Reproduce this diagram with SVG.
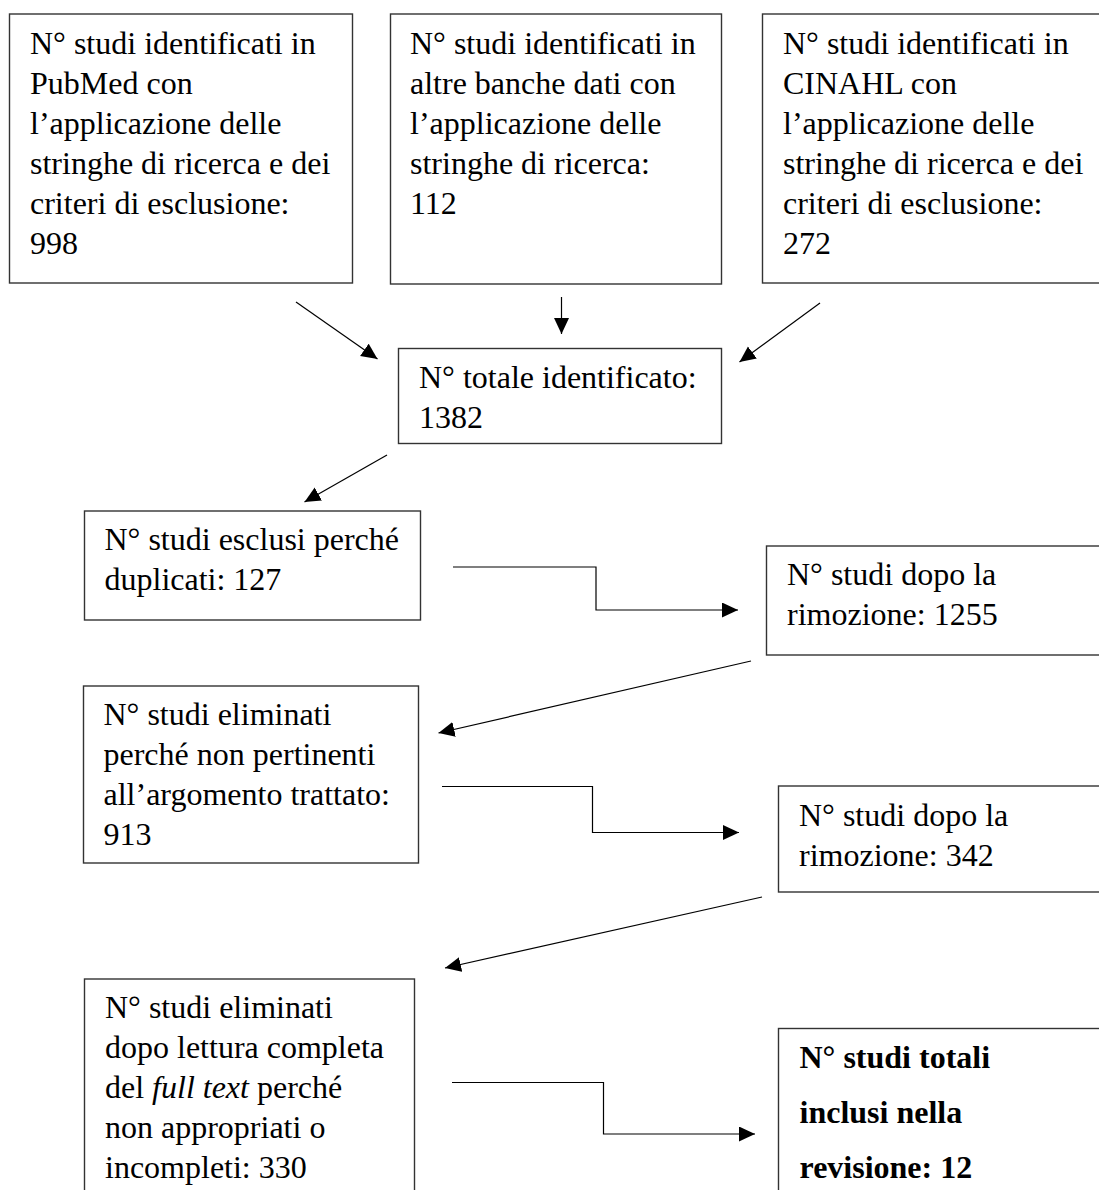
<svg xmlns="http://www.w3.org/2000/svg" width="1099" height="1190" viewBox="0 0 1099 1190">
<style>
.box{fill:#fff;stroke:#333;stroke-width:1.4}
.t{font-family:"Liberation Serif","Times New Roman",serif;font-size:32px;fill:#000}
.b{font-weight:bold}
.c{fill:none;stroke:#000;stroke-width:1.2}
</style>
<defs>
<marker id="ah" markerUnits="userSpaceOnUse" markerWidth="17" markerHeight="16" refX="16" refY="7.5" orient="auto">
<path d="M0,0 L16,7.5 L0,15 z" fill="#000"/>
</marker>
</defs>
<rect width="1099" height="1190" fill="#fff"/>

<g id="pubmed">
<rect class="box" x="9.5" y="14" width="343" height="269"/>
<text class="t" x="30" y="54">N° studi identificati in</text>
<text class="t" x="30" y="94">PubMed con</text>
<text class="t" x="30" y="134">l’applicazione delle</text>
<text class="t" x="30" y="174">stringhe di ricerca e dei</text>
<text class="t" x="30" y="214">criteri di esclusione:</text>
<text class="t" x="30" y="254">998</text>
</g>

<g id="altre">
<rect class="box" x="390.5" y="14" width="331" height="270"/>
<text class="t" x="410" y="54">N° studi identificati in</text>
<text class="t" x="410" y="94">altre banche dati con</text>
<text class="t" x="410" y="134">l’applicazione delle</text>
<text class="t" x="410" y="174">stringhe di ricerca:</text>
<text class="t" x="410" y="214">112</text>
</g>

<g id="cinahl">
<rect class="box" x="762.5" y="14" width="345" height="269"/>
<text class="t" x="783" y="54">N° studi identificati in</text>
<text class="t" x="783" y="94">CINAHL con</text>
<text class="t" x="783" y="134">l’applicazione delle</text>
<text class="t" x="783" y="174">stringhe di ricerca e dei</text>
<text class="t" x="783" y="214">criteri di esclusione:</text>
<text class="t" x="783" y="254">272</text>
</g>

<g id="totale">
<rect class="box" x="398.5" y="348.5" width="323" height="95"/>
<text class="t" x="419" y="388">N° totale identificato:</text>
<text class="t" x="419" y="428">1382</text>
</g>

<g id="esclusi">
<rect class="box" x="84.5" y="511" width="336" height="109"/>
<text class="t" x="104.5" y="550">N° studi esclusi perché</text>
<text class="t" x="104.5" y="590">duplicati: 127</text>
</g>

<g id="dopo1255">
<rect class="box" x="766.5" y="546" width="340" height="109"/>
<text class="t" x="787" y="585">N° studi dopo la</text>
<text class="t" x="787" y="625">rimozione: 1255</text>
</g>

<g id="nonpertinenti">
<rect class="box" x="83.5" y="686" width="335" height="177"/>
<text class="t" x="103.5" y="725">N° studi eliminati</text>
<text class="t" x="103.5" y="765">perché non pertinenti</text>
<text class="t" x="103.5" y="805">all’argomento trattato:</text>
<text class="t" x="103.5" y="845">913</text>
</g>

<g id="dopo342">
<rect class="box" x="778.5" y="786" width="330" height="106"/>
<text class="t" x="799" y="826">N° studi dopo la</text>
<text class="t" x="799" y="866">rimozione: 342</text>
</g>

<g id="fulltext">
<rect class="box" x="84.5" y="979" width="330" height="230"/>
<text class="t" x="105" y="1018">N° studi eliminati</text>
<text class="t" x="105" y="1058">dopo lettura completa</text>
<text class="t" x="105" y="1098">del <tspan font-style="italic">full text</tspan> perché</text>
<text class="t" x="105" y="1138">non appropriati o</text>
<text class="t" x="105" y="1178">incompleti: 330</text>
</g>

<g id="totali">
<rect class="box" x="778.5" y="1028.5" width="330" height="200"/>
<text class="t b" x="799.5" y="1068">N° studi totali</text>
<text class="t b" x="799.5" y="1123">inclusi nella</text>
<text class="t b" x="799.5" y="1178">revisione: 12</text>
</g>

<g id="connectors">
<line class="c" x1="296" y1="302" x2="377.5" y2="359" marker-end="url(#ah)"/>
<line class="c" x1="561.5" y1="297" x2="561.5" y2="334" marker-end="url(#ah)"/>
<line class="c" x1="820" y1="303" x2="739.5" y2="362" marker-end="url(#ah)"/>
<line class="c" x1="387" y1="455" x2="304.5" y2="502" marker-end="url(#ah)"/>
<polyline class="c" points="453,567 596,567 596,610 738,610" marker-end="url(#ah)"/>
<line class="c" x1="751" y1="661" x2="438.5" y2="733" marker-end="url(#ah)"/>
<polyline class="c" points="442,786.5 592.5,786.5 592.5,832.5 739,832.5" marker-end="url(#ah)"/>
<line class="c" x1="762" y1="897" x2="445" y2="968" marker-end="url(#ah)"/>
<polyline class="c" points="452,1082.5 603.5,1082.5 603.5,1134 755,1134" marker-end="url(#ah)"/>
</g>
</svg>
